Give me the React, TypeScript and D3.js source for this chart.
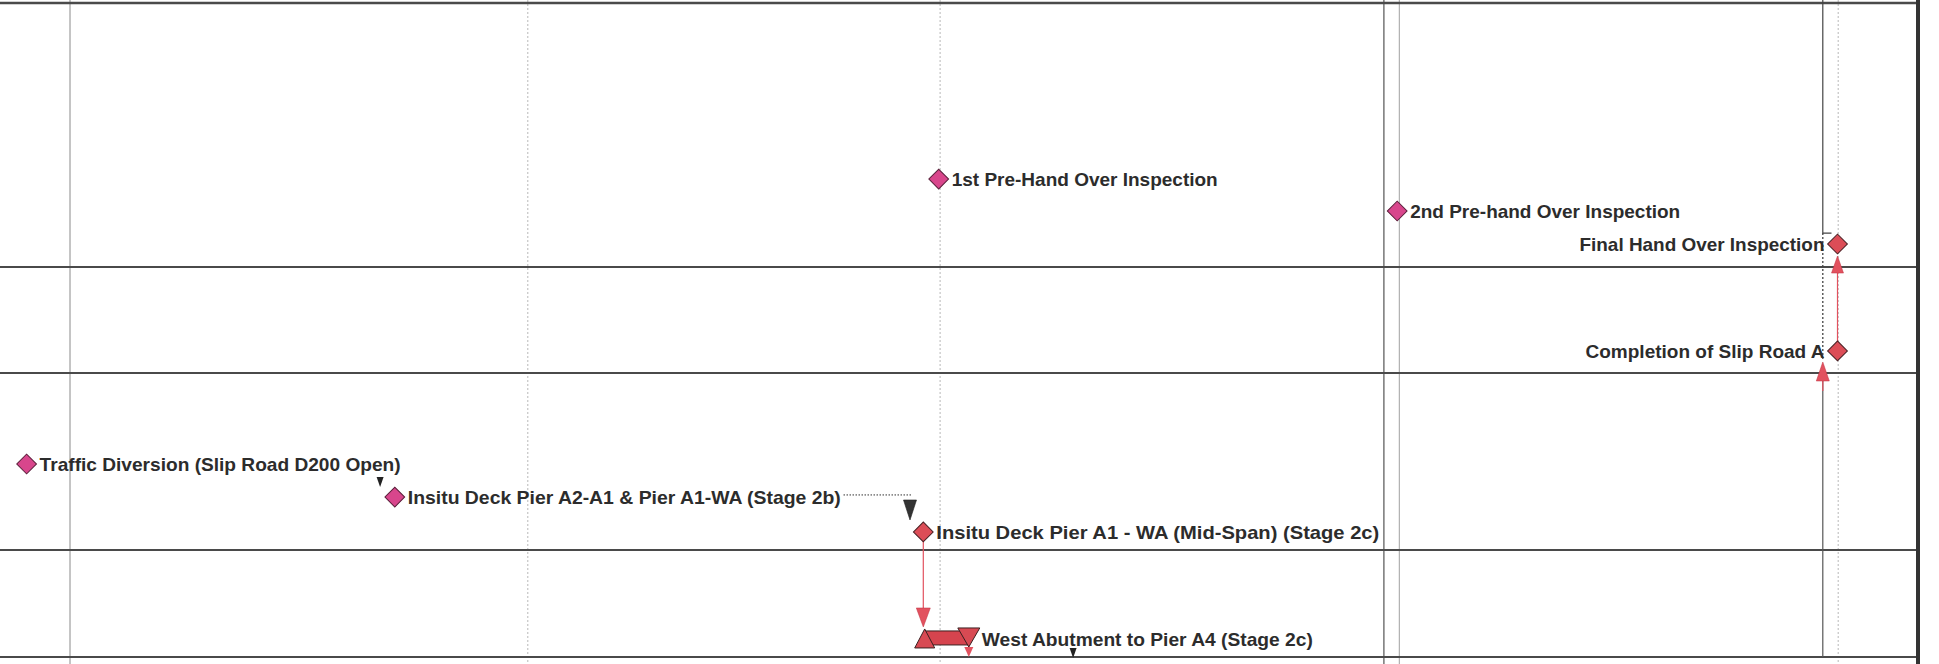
import React from "react";
import * as d3 from "d3";

// ---- data (x in working days from chart left edge, y in row units) ----
const rowBounds = [3, 267, 373, 550, 657];
const rowIndex = [0, 1, 2, 3, 4];

const gridLight = [10.0, 199.9];
const gridDark = [197.7];
const gridDotted = [75.4, 134.3, 262.6];
const borderDay = 274.0;
const dataDateDay = 260.4;

const msNames = [
  "Traffic Diversion (Slip Road D200 Open)",
  "Insitu Deck Pier A2-A1 & Pier A1-WA (Stage 2b)",
  "Insitu Deck Pier A1 - WA (Mid-Span) (Stage 2c)",
  "1st Pre-Hand Over Inspection",
  "2nd Pre-hand Over Inspection",
  "Final Hand Over Inspection",
  "Completion of Slip Road A",
];
const msDay = [3.8, 56.4, 131.9, 134.1, 199.6, 262.5, 262.5];
const msRow = [2.514, 2.701, 2.898, 0.667, 0.788, 0.913, 1.792];
const msCritical = [false, false, true, false, false, true, true];
const msLabelLeft = [false, false, false, false, false, true, true];

const barNames = ["West Abutment to Pier A4 (Stage 2c)"];
const barStart = [132.1];
const barFinish = [138.4];
const barRow = [3.822];

const smallTriDay = [54.3, 153.3];
const smallTriRow = [2.616, 3.963];

// ---- scales ----
const W = 1939;
const H = 664;
const x = d3.scaleLinear().domain([0, 277]).range([0, W]);
const y = d3.scaleLinear().domain(rowIndex).range(rowBounds);

// label widths as printed (layout, px)
const msLabelWidth = [361, 433, 443, 266, 270, 245, 239];
const barLabelWidth = [331];

const FONT = "'Liberation Sans', Arial, Helvetica, sans-serif";
const TEXT = "#2c2c2c";
const PINK = "#d8468c";
const RED = "#dc4d57";
const LINK = "#e2525f";

const diamond = d3.symbol().type(d3.symbolSquare).size(195)();

function tri(cx: number, tipY: number, baseY: number, w: number) {
  const p = d3.path();
  p.moveTo(cx - w / 2, baseY);
  p.lineTo(cx + w / 2, baseY);
  p.lineTo(cx, tipY);
  p.closePath();
  return p.toString();
}

export default function App() {
  const line = d3.line();
  return (
    <svg
      width={W}
      height={H}
      style={{ position: "fixed", left: 0, top: 0, background: "#fff" }}
    >
      <rect x={0} y={0} width={W} height={H} fill="#fff" />
      {/* vertical grid lines */}
      {gridLight.map((d, i) => (
        <line key={"gl" + i} x1={x(d)} x2={x(d)} y1={0} y2={H} stroke={i === 0 ? "#8a8a8a" : "#a0a0a0"} strokeWidth={1} />
      ))}
      {gridDark.map((d, i) => (
        <line key={"gd" + i} x1={x(d)} x2={x(d)} y1={0} y2={H} stroke="#555" strokeWidth={1.2} />
      ))}
      {gridDotted.map((d, i) => (
        <line key={"gt" + i} x1={x(d)} x2={x(d)} y1={0} y2={H} stroke="#b8b8b8" strokeWidth={1} strokeDasharray="2,2" />
      ))}
      {/* row lines */}
      {rowIndex.map((r) => (
        <line key={"r" + r} x1={0} x2={x(borderDay)} y1={y(r)} y2={y(r)} stroke="#4a4a4a" strokeWidth={r === 0 ? 2.5 : 2} />
      ))}
      {/* right border */}
      <line x1={x(borderDay)} x2={x(borderDay)} y1={0} y2={H} stroke="#333" strokeWidth={4} />

      {/* data-date / driving line */}
      <path
        d={line([[x(dataDateDay), 0], [x(dataDateDay), y(msRow[5]) - 11], [x(msDay[5]) - 6, y(msRow[5]) - 11]]) || ""}
        fill="none" stroke="#444" strokeWidth={1.2}
      />
      <line x1={x(dataDateDay)} x2={x(dataDateDay)} y1={y(msRow[5]) - 11} y2={y(msRow[6]) + 10} stroke="#444" strokeWidth={1.3} strokeDasharray="2,2" />
      <line x1={x(dataDateDay)} x2={x(dataDateDay)} y1={y(2) + 8} y2={y(4)} stroke="#555" strokeWidth={1.2} />
      <line x1={x(dataDateDay)} x2={x(dataDateDay)} y1={y(2) + 6} y2={y(2) + 18} stroke={LINK} strokeWidth={1.2} />
      <path d={tri(x(dataDateDay), y(2) - 11, y(2) + 8, 13)} fill={LINK} stroke="#c03040" strokeWidth={0.5} />

      {/* Completion -> Final link */}
      <line x1={x(msDay[6])} x2={x(msDay[6])} y1={y(msRow[6]) - 9} y2={y(msRow[5]) + 28} stroke={LINK} strokeWidth={1.2} />
      <path d={tri(x(msDay[6]), y(msRow[5]) + 12, y(msRow[5]) + 29, 12)} fill={LINK} stroke="#c03040" strokeWidth={0.5} />

      {/* Insitu 2c -> West Abutment link */}
      <line x1={x(msDay[2])} x2={x(msDay[2])} y1={y(msRow[2]) + 9} y2={y(barRow[0]) - 30} stroke={LINK} strokeWidth={1.2} />
      <path d={tri(x(msDay[2]), y(barRow[0]) - 11, y(barRow[0]) - 30, 14)} fill={LINK} stroke="#c03040" strokeWidth={0.5} />
      {/* bar finish -> down */}
      <line x1={x(barFinish[0])} x2={x(barFinish[0])} y1={y(barRow[0])} y2={y(barRow[0]) + 12} stroke={LINK} strokeWidth={1.2} />
      <path d={tri(x(barFinish[0]), y(barRow[0]) + 19, y(barRow[0]) + 9, 9)} fill={LINK} />

      {/* 2b -> 2c dotted link */}
      <line x1={x(120.5)} x2={x(130.3)} y1={y(2.689)} y2={y(2.689)} stroke="#333" strokeWidth={1} strokeDasharray="1.5,1.5" />
      <path d={tri(x(130.0), y(2.774) + 10, y(2.774) - 10, 13)} fill="#333" stroke="#222" strokeWidth={0.6} />

      {/* small triangles */}
      {smallTriDay.map((d, i) => (
        <path key={"st" + i} d={tri(x(d), y(smallTriRow[i]) + 5, y(smallTriRow[i]) - 5, 7)} fill="#222" />
      ))}

      {/* bars */}
      {barNames.map((name, i) => {
        const x0 = x(barStart[i]);
        const x1 = x(barFinish[i]);
        const cy = y(barRow[i]);
        return (
          <g key={"b" + i}>
            <rect x={x0} y={cy - 7} width={x1 - x0} height={14} fill="#d6444e" stroke="#3a2020" strokeWidth={1} />
            <path d={tri(x0, cy - 9, cy + 10, 20)} fill="#d84a53" stroke="#3a2020" strokeWidth={1} />
            <path d={tri(x1, cy + 9, cy - 10, 22)} fill="#d84a53" stroke="#3a2020" strokeWidth={1} />
            <text
              x={x1 + 13}
              y={cy + 8}
              textLength={barLabelWidth[i]}
              lengthAdjust="spacingAndGlyphs"
              fontFamily={FONT}
              fontWeight="bold"
              fontSize={19}
              fill={TEXT}
            >
              {name}
            </text>
          </g>
        );
      })}

      {/* milestones */}
      {msNames.map((name, i) => {
        const cx = x(msDay[i]);
        const cy = y(msRow[i]);
        return (
          <g key={"m" + i}>
            <path
              d={diamond}
              transform={`translate(${cx},${cy}) rotate(45)`}
              fill={msCritical[i] ? RED : PINK}
              stroke={msCritical[i] ? "#4a2024" : "#5a1e3a"}
              strokeWidth={1}
            />
            <text
              x={msLabelLeft[i] ? cx - 13 : cx + 13}
              y={cy}
              dy="0.36em"
              textAnchor={msLabelLeft[i] ? "end" : "start"}
              textLength={msLabelWidth[i]}
              lengthAdjust="spacingAndGlyphs"
              fontFamily={FONT}
              fontWeight="bold"
              fontSize={19}
              fill={TEXT}
            >
              {name}
            </text>
          </g>
        );
      })}
    </svg>
  );
}
